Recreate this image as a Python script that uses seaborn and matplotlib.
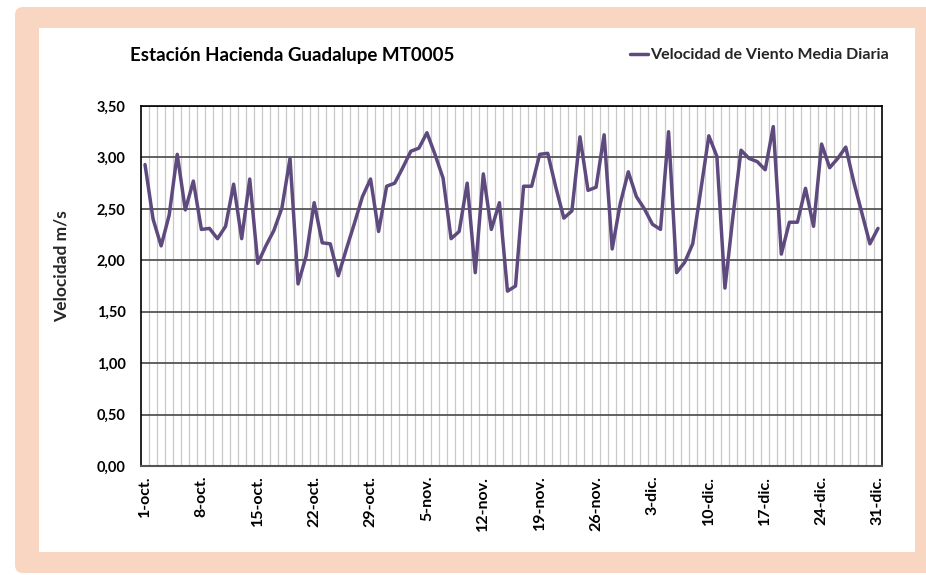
import matplotlib
matplotlib.use("Agg")
import matplotlib.pyplot as plt
import numpy as np
import pandas as pd
import seaborn as sns
from matplotlib.patches import FancyBboxPatch, Rectangle
from matplotlib.transforms import IdentityTransform

# Daily mean wind speed (m/s), 1-oct to 31-dic.
oct_values = [2.93, 2.40, 2.14, 2.44, 3.03, 2.49, 2.77, 2.30, 2.31, 2.21,
              2.33, 2.74, 2.21, 2.79, 1.97, 2.14, 2.29, 2.51, 2.99, 1.77,
              2.04, 2.56, 2.17, 2.16, 1.85, 2.11, 2.36, 2.62, 2.79, 2.28,
              2.72]
nov_values = [2.75, 2.90, 3.06, 3.09, 3.24, 3.03, 2.80, 2.21, 2.28, 2.75,
              1.88, 2.84, 2.30, 2.56, 1.70, 1.75, 2.72, 2.72, 3.03, 3.04,
              2.71, 2.41, 2.48, 3.20, 2.68, 2.71, 3.22, 2.11, 2.55, 2.86]
dic_values = [2.62, 2.50, 2.35, 2.30, 3.25, 1.88, 1.98, 2.16, 2.68, 3.21,
              3.01, 1.73, 2.43, 3.07, 2.99, 2.96, 2.88, 3.30, 2.06, 2.37,
              2.37, 2.70, 2.33, 3.13, 2.90, 2.99, 3.10, 2.76, 2.46, 2.16,
              2.31]

tick_labels = ["1-oct.", "8-oct.", "15-oct.", "22-oct.", "29-oct.", "5-nov.",
               "12-nov.", "19-nov.", "26-nov.", "3-dic.", "10-dic.", "17-dic.",
               "24-dic.", "31-dic."]
y_ticks = [0.0, 0.5, 1.0, 1.5, 2.0, 2.5, 3.0, 3.5]

title = "Estación Hacienda Guadalupe MT0005"
series_name = "Velocidad de Viento Media Diaria"

LINE_COLOR = "#5E4A7E"
PEACH = "#F9D6C1"

sns.set_theme(style="white")
plt.rcParams["font.family"] = ["Lato", "DejaVu Sans"]
plt.rcParams["font.weight"] = "bold"

values = oct_values + nov_values + dic_values
df = pd.DataFrame({"day": np.arange(len(values)), "speed": values})

W, H = 926, 575
fig = plt.figure(figsize=(W / 100, H / 100), dpi=100, facecolor="white")

# Peach frame with a white panel inside (pixel coordinates, origin bottom-left).
frame = FancyBboxPatch((15, H - 573), 940, 566,
                       boxstyle="round,pad=0,rounding_size=8",
                       transform=IdentityTransform(), facecolor=PEACH,
                       edgecolor="none", zorder=0)
panel = Rectangle((39, H - 552), 915 - 39, 552 - 28,
                  transform=IdentityTransform(), facecolor="white",
                  edgecolor="none", zorder=0)
fig.add_artist(frame)
fig.add_artist(panel)

ax = fig.add_axes([141 / W, (H - 466) / H, (882 - 141) / W, (466 - 106) / H])
ax.set_facecolor("white")

sns.lineplot(data=df, x="day", y="speed", ax=ax, color=LINE_COLOR,
             linewidth=2.5, label=series_name)

n = len(values)
ax.set_xlim(-0.5, n - 0.5)
ax.set_ylim(0, 3.5)

ax.set_xticks(np.arange(0, n, 7))
ax.set_xticklabels(tick_labels, rotation=90, fontsize=11.5, fontweight="bold")
ax.set_xticks(np.arange(0.5, n - 1, 1), minor=True)
ax.set_yticks(y_ticks)
ax.set_yticklabels([f"{v:.2f}".replace(".", ",") for v in y_ticks],
                   fontsize=10.5, fontweight="bold")
ax.tick_params(axis="both", which="both", length=0)
ax.tick_params(axis="x", pad=7, colors="black")
ax.tick_params(axis="y", pad=11, colors="black")

ax.grid(False)
ax.grid(axis="x", which="minor", color="#C8C8C8", linewidth=0.9)
ax.grid(axis="y", which="major", color="#555555", linewidth=1.3)
ax.set_axisbelow(True)

for side in ["left", "top", "right"]:
    ax.spines[side].set_color("black")
    ax.spines[side].set_linewidth(1.2)
ax.spines["bottom"].set_color("#555555")
ax.spines["bottom"].set_linewidth(1.5)

ax.set_xlabel("")
ax.set_ylabel("")

fig.text(130 / W, 1 - 55 / H, title, fontsize=13.5, fontweight="bold",
         ha="left", va="center", color="black")
fig.text(62 / W, 1 - 266 / H, "Velocidad m/s", fontsize=12.5,
         fontweight="bold", rotation=90, ha="center", va="center")

ax.legend(loc="center right", bbox_to_anchor=(889 / W, 1 - 55 / H),
          bbox_transform=fig.transFigure, frameon=False, handlelength=1.1,
          handletextpad=0.15, borderaxespad=0, borderpad=0,
          prop={"size": 11.5, "weight": "bold"})

fig.savefig("out.png", dpi=100, facecolor=fig.get_facecolor())
